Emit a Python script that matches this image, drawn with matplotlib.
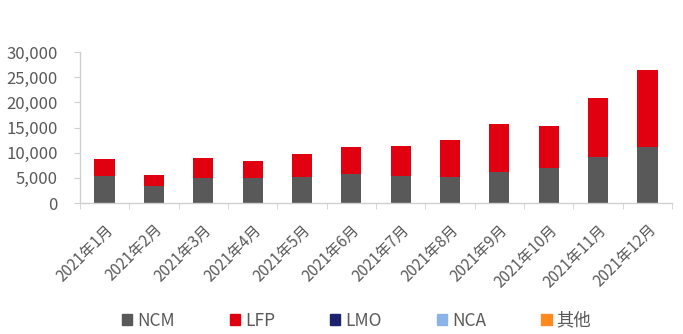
import numpy as np
import matplotlib
matplotlib.use("Agg")
import matplotlib.pyplot as plt
from matplotlib.patches import Patch

plt.rcParams['font.family'] = ['Noto Sans CJK SC', 'DejaVu Sans']

MONTHS = [f"2021年{m}月" for m in range(1, 13)]
NCM = [5450, 3300, 5050, 5050, 5200, 5800, 5350, 5150, 6150, 6950, 9250, 11100]
TOTAL = [8700, 5600, 9000, 8450, 9750, 11150, 11300, 12500, 15750, 15350, 20800, 26350]
LFP = [t - n for t, n in zip(TOTAL, NCM)]
LMO = [0] * 12
NCA = [0] * 12
OTHER = [0] * 12

SERIES = ["NCM", "LFP", "LMO", "NCA", "其他"]
COLORS = ["#595959", "#e0000f", "#1c2470", "#8ab4e8", "#ff8a1f"]

fig = plt.figure(figsize=(6.83, 3.34), dpi=100)
ax = fig.add_axes([0.117, 0.392, 0.867, 0.452])

x = np.arange(len(MONTHS))
w = 0.41
bottom = np.zeros(len(MONTHS))
for vals, c in zip([NCM, LFP, LMO, NCA, OTHER], COLORS):
    ax.bar(x, vals, w, bottom=bottom, color=c, linewidth=0)
    bottom += np.array(vals)

ax.set_xlim(-0.5, len(MONTHS) - 0.5)
ax.set_ylim(0, 30000)
ax.set_yticks(np.arange(0, 30001, 5000))
ax.set_yticklabels([f"{v:,}" for v in range(0, 30001, 5000)])

ax.set_xticks(x)
ax.set_xticklabels(MONTHS, rotation=45, ha="right", rotation_mode="anchor")
ax.set_xticks(np.arange(-0.5, len(MONTHS)), minor=True)
ax.tick_params(axis="x", which="major", length=0, pad=13, labelsize=11, labelcolor="#595959")
ax.tick_params(axis="x", which="minor", length=4, color="#d0d0d0", direction="out")
ax.tick_params(axis="y", length=4, color="#d0d0d0", labelsize=12, labelcolor="#595959", pad=12)

for s in ["top", "right"]:
    ax.spines[s].set_visible(False)
for s in ["left", "bottom"]:
    ax.spines[s].set_color("#d0d0d0")
    ax.spines[s].set_linewidth(1)

handles = [Patch(color=c, label=l) for c, l in zip(COLORS, SERIES)]
fig.legend(handles=handles, loc="center", bbox_to_anchor=(0.522, 0.040), ncol=5,
           frameon=False, handlelength=0.6, handleheight=0.6, handletextpad=0.3,
           columnspacing=3.15, fontsize=12.5, labelcolor="#595959")

fig.savefig("out.png", dpi=100, facecolor="white")
